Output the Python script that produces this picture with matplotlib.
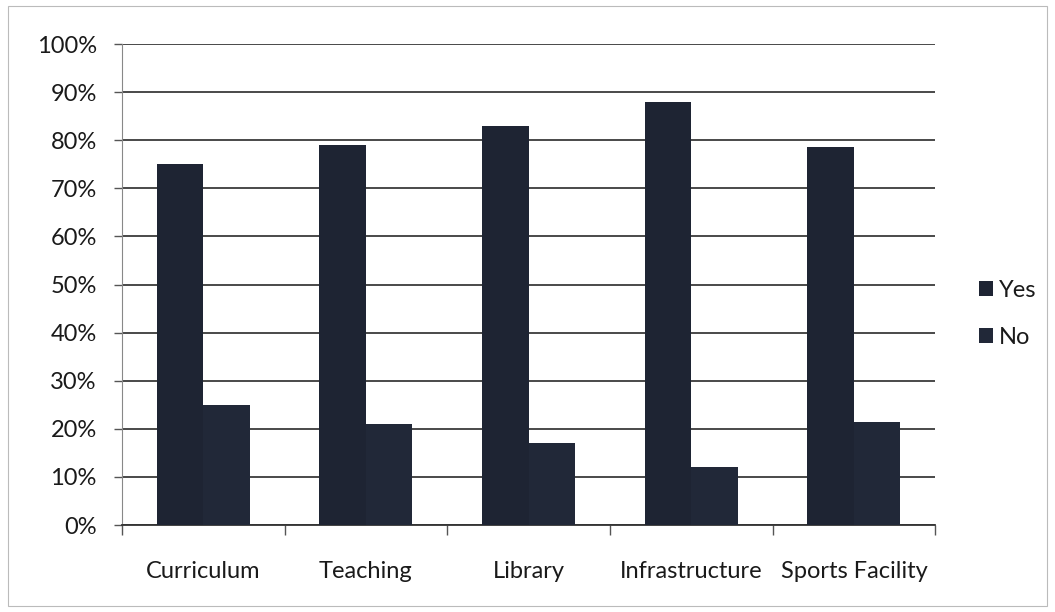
import numpy as np
import matplotlib
matplotlib.use("Agg")
from matplotlib import pyplot as plt
from matplotlib.ticker import PercentFormatter, FixedLocator

# ---- Data ----
categories = ["Curriculum", "Teaching", "Library", "Infrastructure", "Sports Facility"]
yes_values = [75, 79, 83, 88, 78.5]
no_values = [25, 21, 17, 12, 21.5]
series_names = ["Yes", "No"]
y_ticks = list(range(0, 101, 10))

plt.rcParams["font.family"] = ["Lato", "DejaVu Sans"]
FS = 17

fig = plt.figure(figsize=(10.55, 6.12), dpi=100)
ax = fig.add_axes([0.1155, 0.142, 0.771, 0.786])

x = np.arange(len(categories))
w = 1 / 3.5  # excel style 150% gap
ax.bar(x - w / 2, yes_values, w, color="#1e2433", label=series_names[0], zorder=3)
ax.bar(x + w / 2, no_values, w, color="#212838", label=series_names[1], zorder=3)

ax.set_xlim(-0.5, len(categories) - 0.5)
ax.set_ylim(0, 100)
ax.yaxis.set_major_locator(FixedLocator(y_ticks))
ax.yaxis.set_major_formatter(PercentFormatter(decimals=0))
ax.grid(axis="y", color="#3a3a3a", linewidth=1.3, zorder=0)

# category ticks at boundaries, labels centered
ax.set_xticks(np.arange(-0.5, len(categories), 1))
ax.set_xticklabels([])
ax.set_xticks(x, minor=True)
ax.set_xticklabels(categories, minor=True)
ax.tick_params(axis="x", which="minor", length=0, pad=26, labelsize=FS, labelcolor="#1a1a1a")
ax.tick_params(axis="x", which="major", length=7, width=1, color="#555555")
ax.tick_params(axis="y", length=6, width=1, color="#555555", labelsize=FS,
               labelcolor="#1a1a1a", pad=12)

for s in ["top", "right"]:
    ax.spines[s].set_visible(False)
ax.spines["left"].set_color("#888888")
ax.spines["bottom"].set_color("#333333")
ax.spines["bottom"].set_linewidth(1.3)

leg = ax.legend(loc="center left", bbox_to_anchor=(0.928, 0.487),
                bbox_transform=fig.transFigure, frameon=False, borderpad=0,
                borderaxespad=0, fontsize=FS, handlelength=0.6, handleheight=0.6,
                labelspacing=1.12, handletextpad=0.25)
for t in leg.get_texts():
    t.set_color("#1a1a1a")

# faint outer border of the chart area
fig.patches.append(plt.Rectangle((0.008, 0.01), 0.984, 0.98, transform=fig.transFigure,
                                 fill=False, edgecolor="#bbbbbb", linewidth=0.8))

fig.savefig("out.png", dpi=100)
